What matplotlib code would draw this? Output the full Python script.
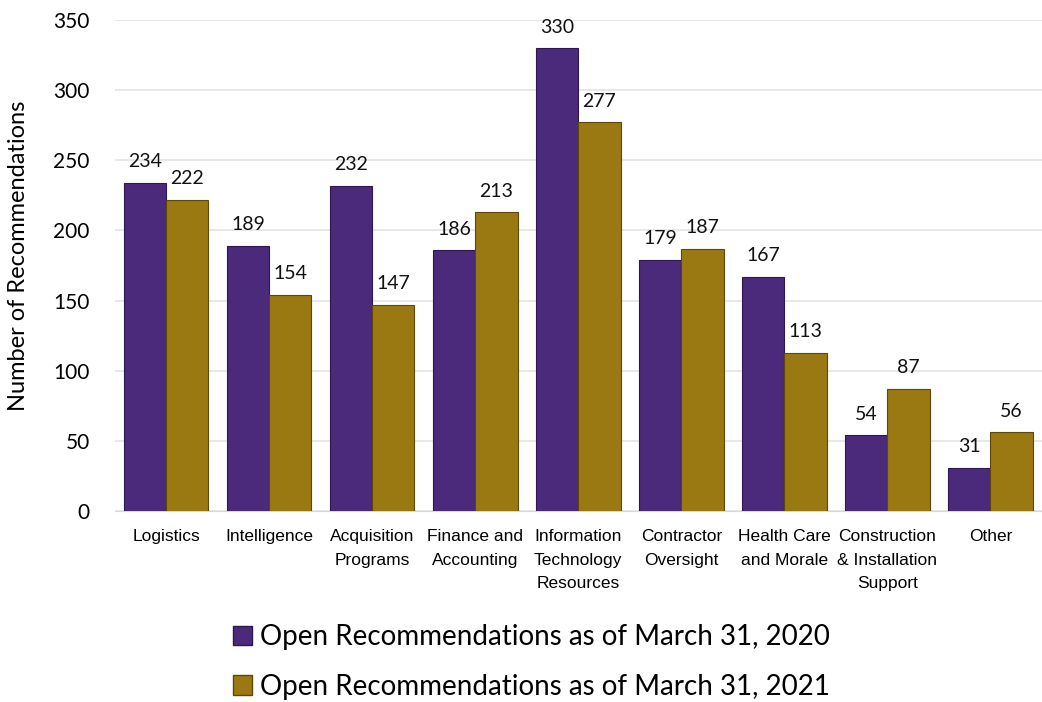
import matplotlib.pyplot as plt
import numpy as np
from matplotlib.patches import Patch

categories = ["Logistics", "Intelligence", "Acquisition\nPrograms", "Finance and\nAccounting",
              "Information\nTechnology\nResources", "Contractor\nOversight", "Health Care\nand Morale",
              "Construction\n& Installation\nSupport", "Other"]
open_2020 = [234, 189, 232, 186, 330, 179, 167, 54, 31]
open_2021 = [222, 154, 147, 213, 277, 187, 113, 87, 56]
labels = ["Open Recommendations as of March 31, 2020",
          "Open Recommendations as of March 31, 2021"]

purple = "#4b2a7c"
gold = "#9a7912"
calibri = ["Lato", "DejaVu Sans"]

fig = plt.figure(figsize=(10.42, 7.02), dpi=100)
ax = fig.add_axes([0.110, 0.272, 0.890, 0.6995])

x = np.arange(len(categories))
w = 0.41
b1 = ax.bar(x - w / 2, open_2020, w, color=purple, edgecolor="#2e1650", linewidth=0.8, zorder=3)
b2 = ax.bar(x + w / 2, open_2021, w, color=gold, edgecolor="#5e4808", linewidth=0.8, zorder=3)

for bars in (b1, b2):
    for r in bars:
        ax.annotate(str(int(r.get_height())), (r.get_x() + r.get_width() / 2, r.get_height()),
                    xytext=(0, 9), textcoords="offset points", ha="center", va="bottom",
                    fontsize=14, family=calibri, color="#111111")

ax.set_xlim(-0.5, len(categories) - 0.5)
ax.set_ylim(0, 350)
ax.set_yticks(range(0, 351, 50))
ax.yaxis.grid(True, color="#e4e4e4", linewidth=1.2, zorder=0)
for s in ["top", "right", "left"]:
    ax.spines[s].set_visible(False)
ax.spines["bottom"].set_color("#d8d8d8")
ax.tick_params(axis="both", length=0)
ax.tick_params(axis="y", pad=18)
ax.tick_params(axis="x", pad=13)
ax.set_xticks(x)
ax.set_xticklabels(categories, fontsize=12.5, family=["Liberation Sans", "DejaVu Sans"],
                   linespacing=1.72)
for t in ax.get_yticklabels():
    t.set_fontsize(15)
    t.set_family(calibri)
ax.set_ylabel("Number of Recommendations", fontsize=17, family=calibri)
ax.yaxis.set_label_coords(-0.092, 0.52)

handles = [Patch(facecolor=purple, edgecolor="#2e1650"), Patch(facecolor=gold, edgecolor="#5e4808")]
fig.legend(handles, labels, loc="center", bbox_to_anchor=(0.51, 0.057), ncol=1, frameon=False,
           prop={"family": calibri, "size": 20}, handlelength=0.7, handleheight=0.7,
           handletextpad=0.3, labelspacing=0.85)

fig.savefig("out.png", dpi=100)
